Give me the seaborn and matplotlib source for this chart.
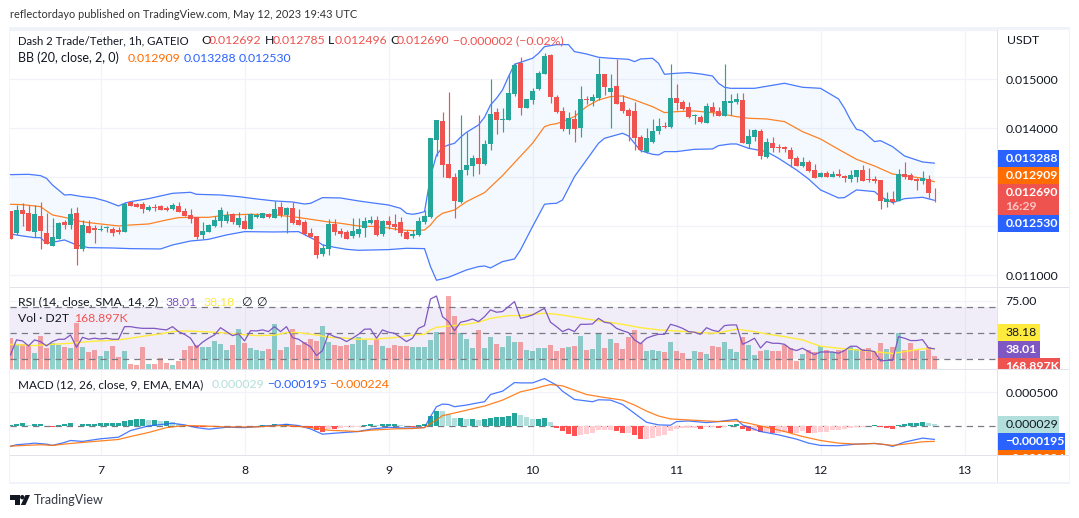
import numpy as np
import pandas as pd
import matplotlib
matplotlib.use("Agg")
import matplotlib.pyplot as plt
from matplotlib.patches import Rectangle, Polygon, Circle
from matplotlib.transforms import Bbox
import seaborn as sns

# ---- values in millionths of a USDT; hour 0 = first visible candle (May 6, 09:00)
opens = [12313,11870,12333,12272,11884,12211,11864,11605,11741,12095,12027,12272,11537,12007,11966,11918,11973,11945,11925,11884,12496,12455,12455,12340,12388,12415,12374,12353,12415,12313,12231,12183,11823,11891,12007,12109,12109,12245,12027,12109,11945,12190,12170,12251,12170,12394,12231,12374,12129,12088,11864,11802,11435,11537,12047,11904,11884,11802,11843,
 11966,12061,12129,11844,12109,12048,12088,11885,11803,11823,12088,12190,13762,14150,13272,13007,12496,13150,13231,13395,13272,13680,14333,14177,14170,14701,15334,14415,14578,14803,15109,15497,14640,14354,13986,14191,14007,14599,14558,14619,15109,14742,14864,14538,14374,14354,13823,13517,13721,13946,14048,14027,14619,14538,14436,14259,14231,14109,14436,14354,
 14252,14510,14538,14578,13680,13823,13946,13415,13701,13619,13612,13558,13395,13231,13313,13150,13007,13089,13007,13068,13034,12973,13007,13150,12966,12959,12946,12496,12558,12517,13068,13048,12966,12925,12966,12692]
highs = [12313,12435,12483,12435,12435,12496,12265,12163,12095,12129,12374,12388,12129,12129,12027,12027,12007,11993,11993,12503,12510,12469,12496,12435,12455,12428,12415,12469,12496,12367,12360,12197,12095,12047,12211,12401,12313,12265,12292,12231,12265,12265,12272,12265,12510,12496,12401,12490,12347,12129,11966,11802,11639,12149,12149,11966,11925,12170,12170,
 12197,12211,12211,12129,12211,12252,12184,11925,11925,12197,12334,13803,14170,14333,14742,13082,14272,13925,13456,14272,13762,15007,14415,14415,15109,15327,15449,14599,14816,15170,15531,15517,14680,14436,14333,14374,14864,14660,14701,15436,15109,15109,15415,14680,14408,14538,13864,14007,14191,14211,14129,15313,14905,14578,14538,14293,14272,14517,14538,14436,
 15313,14701,14721,14721,13986,13986,13986,13803,13823,13680,13640,13619,13435,13415,13354,13272,13109,13129,13129,13170,13048,13150,13150,13259,13197,13027,12946,12701,12721,13170,13320,13089,12986,13129,13048,12785]
lows = [11748,11823,12007,11904,11775,11544,11632,11598,11741,11945,11945,11211,11503,11870,11666,11911,11891,11802,11836,11884,12421,12388,12279,12319,12313,12333,12313,12333,12285,12211,12075,11734,11734,11877,11979,11993,12061,12047,11979,11938,11938,12163,12163,12163,12170,12183,11870,12047,12027,11823,11775,11353,11394,11415,11823,11775,11741,11762,11789,
 11789,12048,11803,11803,11939,11925,11803,11742,11762,11810,12048,12170,13435,13007,12986,12170,12470,13048,13027,13068,13252,13558,13884,13925,14170,14660,14272,14415,14497,14782,15109,14517,14313,13946,13884,13721,13823,14497,14456,14578,14680,14007,14497,14313,13742,13558,13517,13490,13701,13884,14007,14007,14374,14374,14204,14089,14109,14109,14252,14252,
 14252,14272,14497,13701,13599,13742,13374,13395,13517,13517,13517,13211,13231,13211,13109,12986,13007,13007,13007,13007,12905,12905,12905,12925,12905,12884,12354,12395,12456,12517,12966,12946,12742,12864,12571,12496]
closes = [11748,12333,12258,11904,12251,11911,11639,11782,12068,12027,12251,11537,12027,11870,11925,11945,11986,11864,11884,12449,12421,12401,12353,12394,12374,12340,12333,12435,12292,12217,12149,11775,11904,12027,12129,12333,12231,12081,12170,11945,12251,12231,12272,12190,12353,12231,12374,12068,12027,11843,11782,11415,11557,12047,11884,11843,11741,11904,11945,
 12109,12129,11823,12109,12027,11986,11864,11742,11844,12109,12211,13803,14170,13252,12986,12517,13150,13252,13395,13272,13680,14293,14170,14191,14721,15293,14415,14599,14762,15129,15476,14640,14333,13986,14211,13986,14599,14578,14640,15109,14844,14823,14497,14354,14252,13803,13558,13803,13946,14048,14027,14619,14517,14395,14231,14272,14129,14456,14333,14252,
 14558,14558,14599,13701,13844,13966,13435,13721,13599,13599,13571,13374,13231,13313,13129,12986,13089,13007,13068,13027,12980,13048,13150,12925,12952,12925,12517,12558,12496,13068,13007,12946,12925,12986,12680,12690]

bb_upper_h = [0,3,5,6,7,8,9,10,12,14,16,18,19,20,23,25,27,30,31,35,38,41,44,47,49,50,52,55,58,60,63,65,66,67,68,69,70,71,72,73,74,75,76,78,79,80,81,82,83,84,85,87,88,89,91,93,94,96,98,100,103,104,105,107,108,109,111,113,115,117,118,119,120,124,129,132,135,138,139,140,141,142,144,145,147,149,152,154]
bb_upper = [13054,13061,13034,12979,12843,12741,12639,12646,12605,12578,12510,12415,12469,12503,12564,12619,12673,12694,12653,12639,12605,12558,12517,12496,12455,12469,12585,12578,12517,12483,12435,12367,12265,12245,12265,12299,13014,13456,13612,13660,13694,13816,13918,14068,14225,14476,14612,14782,15055,15306,15347,15429,15531,15667,15708,15708,15565,15517,15449,15429,15408,15361,15415,15429,15327,15102,15123,15136,15109,15068,14919,14837,14816,14816,14919,14837,14816,14599,14408,14170,13980,13946,13728,13748,13626,13435,13313,13288]
bb_basis_h = [0,2,5,6,7,9,11,13,16,18,20,23,26,28,30,33,36,40,44,47,50,53,55,58,61,63,65,67,69,70,71,72,74,76,79,82,84,87,89,90,91,92,94,96,98,100,102,104,107,109,111,114,118,121,123,126,129,132,135,138,141,144,147,149,152,154]
bb_basis = [12449,12442,12401,12313,12231,12183,12115,12075,12034,12007,12027,12047,12129,12177,12183,12183,12231,12245,12231,12197,12143,12088,12061,12007,11993,11966,11925,11912,11925,12027,12177,12265,12333,12503,12687,13034,13299,13694,14034,14075,14095,14136,14238,14442,14578,14646,14660,14578,14442,14320,14340,14354,14306,14238,14204,14191,14136,13932,13782,13571,13367,13231,13068,13034,12980,12909]
bb_lower_h = [0,2,4,5,6,7,9,11,13,17,20,25,27,30,32,33,36,39,44,48,51,52,54,56,58,63,66,69,70,71,73,76,78,79,80,82,84,85,87,89,90,91,92,94,96,98,99,102,103,105,107,108,109,111,114,117,118,120,121,123,126,128,131,133,135,138,139,141,144,145,147,149,152,154]
bb_lower = [11843,11802,11768,11768,11653,11673,11721,11619,11564,11557,11544,11537,11619,11700,11721,11734,11823,11891,11884,11891,11707,11619,11571,11530,11510,11524,11551,11544,11177,10898,10959,11109,11177,11190,11150,11279,11333,11517,11993,12449,12463,12469,12537,13014,13354,13694,13796,13898,13844,13544,13469,13456,13524,13524,13571,13578,13646,13680,13680,13592,13524,13388,13150,12966,12742,12578,12585,12742,12708,12605,12483,12564,12592,12530]

volume_k = [407,320,320,312,208,429,268,333,312,290,277,598,286,225,247,169,238,303,160,238,65,52,286,69,69,139,78,52,104,247,299,312,286,286,364,329,247,312,520,338,273,247,234,260,585,247,286,520,312,351,390,364,559,351,312,299,312,320,420,
 377,312,390,299,273,312,299,299,286,286,286,377,481,481,948,688,468,390,273,507,273,416,325,286,429,351,351,247,234,273,273,312,234,273,286,299,429,247,260,455,273,390,338,260,416,507,338,234,247,234,221,351,234,208,117,234,221,195,299,286,
 351,260,221,416,312,182,234,247,234,234,312,273,104,195,247,221,299,247,221,247,247,286,260,260,273,221,338,260,286,468,247,338,247,234,286,169]

rsi = [33.3,44.9,44.1,40.3,44.9,43.6,40.3,43.6,45.4,45.4,48.7,39.2,46.9,45.4,46.2,45.6,46.2,45.4,45.4,55.1,55.1,54.3,53.8,53.8,53.8,53.1,52.6,55.1,51.3,49.2,46.2,39,43.1,46.2,48.7,54.3,51.3,48.2,49.5,44.1,52,51.8,52.6,51.3,55.1,51.3,55.1,46.7,45.4,42.3,39.7,32.8,36.7,49.7,47.4,46.2,43.6,46.2,49.2,
 53.1,53.3,46.2,52.6,50.8,50,46.9,43.6,46.2,53.8,55.9,76.4,78.7,62.8,59,52,58.5,59.5,61,59,62.8,68,66.2,66.7,70.5,74.4,61.5,62.6,64.1,66.7,69.2,58.5,55.1,51.3,53.3,51.3,56.9,56.9,57.2,61.5,58.5,57.7,53.8,52,50.5,44.9,42,46.2,47.9,49.2,49.2,56.9,55.6,53.8,51.3,50.8,49.2,54.3,52.3,51.3,
 55.9,56.4,56.4,41.5,43.6,46.2,38.7,43.6,42.3,42.3,41.5,38,36.7,38.5,35.9,33.6,35.6,35.6,35.6,34.6,36.7,40,40,36.9,36.7,35.9,28.7,29.2,29.2,47.4,46.2,44.4,44.4,45.1,38.7,38.01]
rsi_ma_h = [0,4,7,10,13,18,20,22,25,27,29,32,35,38,41,44,46,48,51,53,56,58,61,64,67,69,70,71,73,76,78,80,83,85,87,89,91,93,96,99,102,105,108,111,114,117,118,121,124,126,129,132,135,138,141,144,147,149,152,154]
rsi_ma = [41.5,40.5,41.5,42.3,43.6,44.9,46.2,47.7,49.5,51.3,51.8,51.3,50.5,49.2,48.2,48.5,50.5,50.5,48.7,46.9,46.2,45.4,45.6,46.7,48.7,49.2,52.6,54.6,55.6,56.9,58.5,61.5,63.6,63.6,64.6,65.4,64.6,63.3,61,59,56.9,54.3,52.6,51.8,50.8,50,50.5,53.1,51.3,49.5,47.4,44.9,40,38.5,37.2,35.9,34.4,35.9,38,38.18]

macd_hist = [15,39,49,15,29,29,5,-5,20,34,49,10,29,29,39,49,49,49,49,78,93,108,108,98,98,78,78,59,29,15,5,-10,-15,-10,0,5,5,0,5,10,5,10,20,15,29,25,39,-5,-10,-15,-29,-59,-78,-34,-39,-29,-15,-15,-10,
 15,29,15,34,34,34,15,5,-5,25,34,147,225,221,186,118,118,103,103,88,103,127,142,142,157,201,162,132,103,103,118,69,
 -25,-74,-108,-142,-127,-118,-98,-59,-59,-49,-69,-98,-98,-137,-186,-186,-172,-147,-127,-69,-39,-25,-20,-20,-39,-15,-15,-25,
 -10,15,39,-39,-64,-64,-88,-88,-98,-98,-83,-98,-98,-74,-98,-98,-78,-78,-59,-49,-34,-20,-10,-5,5,20,-15,-20,-39,20,29,44,44,64,49,29]
macd_h = [0,1,3,4,6,7,9,10,12,15,18,20,23,27,29,31,33,36,39,42,45,46,48,50,52,54,58,60,63,66,69,70,71,72,73,74,76,78,79,80,82,84,85,87,89,91,92,94,97,98,100,102,104,106,108,110,111,113,116,118,121,122,125,128,131,133,135,138,141,144,146,147,149,152,154]
macd_line = [-299,-274,-260,-250,-265,-284,-240,-211,-225,-186,-162,-64,5,44,20,-20,-44,-15,-20,0,20,29,10,-39,-118,-103,-78,-44,-15,-29,-20,142,289,328,323,289,314,348,363,470,519,647,642,642,706,608,519,397,363,392,387,323,191,59,20,15,69,78,54,69,103,20,-78,-127,-191,-250,-284,-289,-265,-255,-274,-299,-235,-176,-195]
signal_h = [0,5,7,10,14,18,20,23,26,29,32,36,41,45,47,50,53,58,60,64,67,69,71,72,74,78,79,82,85,87,89,90,92,94,96,99,102,104,106,108,110,113,118,121,123,126,129,132,135,138,141,144,147,149,152,154]
signal_line = [-294,-274,-284,-255,-225,-196,-152,-93,-20,10,5,-10,-10,10,5,-20,-59,-78,-59,-39,-34,-20,93,157,196,279,299,387,510,549,598,617,598,534,470,426,387,314,225,152,108,93,69,78,44,-15,-78,-152,-211,-250,-265,-255,-284,-265,-230,-224]

day_hours = [15,39,63,87,111,135,159]
day_labels = ["7","8","9","10","11","12","13"]
price_ticks = [16000,15000,14000,13000,12000,11000]
price_tick_labels = ["","0.015000","0.014000","","","0.011000"]

# ---- styling
GREEN, RED = "#26a69a", "#ef5350"
BLUE, ORANGE = "#2962ff", "#ff6d00"
PURPLE, YELLOW = "#7e57c2", "#ffeb3b"
GRID, SEP, INK = "#f0f3fa", "#e0e3eb", "#131722"
W, H = 1079, 518

sns.set_theme(style="white")
plt.rcParams["font.family"] = ["Lato", "DejaVu Sans"]
plt.rcParams["axes.unicode_minus"] = True
FS = 8.8

n = len(closes)
df = pd.DataFrame(dict(hour=np.arange(n), open=opens, high=highs, low=lows, close=closes,
                       vol=volume_k, rsi=rsi, hist=macd_hist))
df["dir"] = np.where(df.close >= df.open, "up", "down")
up = df.close >= df.open

fig = plt.figure(figsize=(W / 100, H / 100), dpi=100, facecolor="white")


def px_axes(x0, y0, x1, y1, z=1, transparent=False):
    a = fig.add_axes([x0 / W, 1 - y1 / H, (x1 - x0) / W, (y1 - y0) / H], zorder=z)
    a.set_xlim((x0 - 10.5) / 6, (x1 - 10.5) / 6)
    a.set_xticks(day_hours)
    a.set_xticklabels([])
    a.tick_params(length=0, labelsize=FS, labelcolor=INK, pad=6)
    a.yaxis.tick_right()
    for s in a.spines.values():
        s.set_visible(False)
    if transparent:
        a.patch.set_alpha(0)
    else:
        a.grid(True, color=GRID, lw=0.9)
    a.set_axisbelow(True)
    return a


# ---- price panel
ax = px_axes(10, 30, 997, 287)
ax.set_ylim(10761, 16006)
ax.set_yticks(price_ticks)
ax.set_yticklabels(price_tick_labels)
ax.fill(bb_upper_h + bb_lower_h[::-1], bb_upper + bb_lower[::-1], color="#2196f3", alpha=0.05, lw=0)
for hrs, vals, col in ((bb_upper_h, bb_upper, BLUE), (bb_lower_h, bb_lower, BLUE), (bb_basis_h, bb_basis, ORANGE)):
    sns.lineplot(x=hrs, y=vals, color=col, lw=0.9, estimator=None, sort=False, ax=ax, zorder=3, alpha=0.85)
candle_colors = np.where(up, GREEN, RED)
ax.vlines(df.hour, df.low, df.high, colors=candle_colors, lw=0.85, zorder=4)
ax.bar(df.hour, (df.close - df.open).abs().clip(lower=6), bottom=df[["open", "close"]].min(axis=1),
       width=0.78, color=candle_colors, lw=0, zorder=5)
ax.set_xlabel(""); ax.set_ylabel("")

# ---- RSI / volume panel
ax_band = px_axes(10, 288, 997, 369)
ax_band.set_ylim(22.5, 84.85)
ax_band.set_yticks([75])
ax_band.set_yticklabels(["75.00"])
ax_band.axhspan(30, 70, color=PURPLE, alpha=0.1, lw=0)

ax_vol = px_axes(10, 288, 997, 369, z=2, transparent=True)
ax_vol.set_ylim(0, 1052)
sns.barplot(data=df, x="hour", y="vol", hue="dir", palette={"up": GREEN, "down": RED}, native_scale=True,
            dodge=False, width=0.8, alpha=0.5, saturation=1, legend=False, linewidth=0, ax=ax_vol)
ax_vol.set_xlim((10 - 10.5) / 6, (997 - 10.5) / 6)
ax_vol.set_xticks([]); ax_vol.set_yticks([])
ax_vol.set_xlabel(""); ax_vol.set_ylabel("")

ax_rsi = px_axes(10, 288, 997, 369, z=3, transparent=True)
ax_rsi.set_ylim(22.5, 84.85)
ax_rsi.set_xticks([]); ax_rsi.set_yticks([])
for lev in (30, 50, 70):
    ax_rsi.axhline(lev, color="#787b86", lw=0.9, dashes=(5, 4))
sns.lineplot(x=rsi_ma_h, y=rsi_ma, color=YELLOW, lw=1.0, estimator=None, sort=False, ax=ax_rsi)
sns.lineplot(data=df, x="hour", y="rsi", color=PURPLE, lw=0.9, estimator=None, sort=False, ax=ax_rsi)
ax_rsi.set_xlabel(""); ax_rsi.set_ylabel("")

# ---- MACD panel
ax_m = px_axes(10, 370, 997, 455)
ax_m.set_ylim(-426, 833)
ax_m.set_yticks([500])
ax_m.set_yticklabels(["0.000500"])
ax_m.set_xticklabels(day_labels)
ax_m.axhline(0, color="#787b86", lw=0.9, dashes=(5, 4), zorder=1)
h = df["hist"].to_numpy()
rising = np.r_[True, h[1:] >= h[:-1]]
hist_colors = np.where(h >= 0, np.where(rising, GREEN, "#b2dfdb"), np.where(rising, "#ffcdd2", "#ff5252"))
ax_m.bar(df.hour, h, width=0.92, color=hist_colors, lw=0, zorder=2)
sns.lineplot(x=macd_h, y=macd_line, color=BLUE, lw=0.9, estimator=None, sort=False, ax=ax_m, zorder=3, alpha=0.85)
sns.lineplot(x=signal_h, y=signal_line, color=ORANGE, lw=0.9, estimator=None, sort=False, ax=ax_m, zorder=4, alpha=0.85)
ax_m.set_xlabel(""); ax_m.set_ylabel("")
ax_m.tick_params(axis="x", pad=7.5)

# ---- overlay drawn in pixel units: frame, legends, price tags
ov = fig.add_axes([0, 0, 1, 1], zorder=10)
ov.set_xlim(0, W); ov.set_ylim(H, 0); ov.axis("off"); ov.patch.set_alpha(0)


def rect(x0, y0, x1, y1, c, **kw):
    ov.add_patch(Rectangle((x0, y0), x1 - x0, y1 - y0, facecolor=c, edgecolor="none", **kw))


def txt(x, y, s, c=INK, fs=FS, **kw):
    kw.setdefault("va", "center")
    return ov.text(x, y, s, color=c, fontsize=fs, **kw)


# frame
rect(9, 26.5, 1070, 29.5, GRID)
rect(9, 482, 1070, 484, GRID)
rect(9, 26.5, 10, 484, GRID)
rect(1068.5, 26.5, 1070, 484, GRID)
rect(10, 287, 1068.5, 288, SEP)
rect(10, 369, 1068.5, 370, SEP)
rect(10, 455, 1068.5, 456, SEP)
rect(997, 30, 998, 482, SEP)

txt(10, 14, "reflectordayo published on TradingView.com, May 12, 2023 19:43 UTC", c="#333333", fs=7.95)

# legends
L_RED = "#ef5350"
y = 41
txt(18, y, "Dash 2 Trade/Tether, 1h, GATEIO", fs=8.2)
for x, s, c in ((201, "O", INK), (209, "0.012692", L_RED), (265, "H", INK), (273, "0.012785", L_RED),
                (328, "L", INK), (334.5, "0.012496", L_RED), (390, "C", INK), (397, "0.012690", L_RED),
                (453, "−0.000002 (−0.02%)", L_RED)):
    txt(x, y, s, c)
y = 58
txt(18, y, "BB (20, close, 2, 0)", fs=9.0)
txt(128, y, "0.012909", ORANGE); txt(184, y, "0.013288", BLUE); txt(239, y, "0.012530", BLUE)
y = 302
txt(18, y, "RSI (14, close, SMA, 14, 2)")
txt(166, y, "38.01", PURPLE); txt(203, y, "38.18", YELLOW); txt(241, y, "∅"); txt(256, y, "∅")
y = 319
txt(18, y, "Vol · D2T"); txt(74, y, "168.897K", L_RED)
y = 385
txt(18, y, "MACD (12, 26, close, 9, EMA, EMA)", fs=8.45)
txt(212, y, "0.000029", "#b2dfdb"); txt(267, y, "−0.000195", BLUE); txt(329, y, "−0.000224", ORANGE)

txt(1007, 41, "USDT")

# price tags
for y0, y1, x1, c, s, tc in ((150, 167, 1059, BLUE, "0.013288", "white"),
                             (167, 184, 1059, ORANGE, "0.012909", "white"),
                             (215, 232, 1059, BLUE, "0.012530", "white"),
                             (324, 341, 1040, YELLOW, "38.18", INK),
                             (341, 358, 1040, PURPLE, "38.01", "white"),
                             (416, 433, 1059, "#b2dfdb", "0.000029", INK),
                             (433, 450, 1065, BLUE, "−0.000195", "white")):
    rect(997.5, y0, x1, y1, c)
    txt(1005.5, (y0 + y1) / 2, s, tc, fontweight="bold" if tc == "white" else "normal")
rect(997.5, 184, 1059, 215, RED)
txt(1005.5, 193, "0.012690", "white", fontweight="bold")
txt(1005.5, 206, "16:29", "#f9c6c5", fontweight="bold")
# tags cut off by the panel edge
rect(997.5, 358, 1060, 369, RED)
t = txt(1005.5, 366, "168.897K", "white", fontweight="bold")
t.set_clip_on(True); t.set_clip_box(Bbox([[997, H - 369], [1070, H - 358]]))
rect(997.5, 450, 1065, 455, ORANGE)
t = txt(1005.5, 458, "−0.000224", "white", fontweight="bold")
t.set_clip_on(True); t.set_clip_box(Bbox([[997, H - 455], [1070, H - 450]]))

# TradingView mark
LOGO = "#131722"
ov.add_patch(Polygon([(10, 495), (20, 495), (20, 505), (15, 505), (15, 500), (10, 500)], closed=True, fc=LOGO, ec="none"))
ov.add_patch(Circle((22.3, 497.2), 2.2, fc=LOGO, ec="none"))
ov.add_patch(Polygon([(25.5, 495), (30, 495), (25.5, 505), (20.8, 505)], closed=True, fc=LOGO, ec="none"))
txt(34, 500, "TradingView", c="#333842", fs=9.0)

fig.savefig("out.png", dpi=100, facecolor="white")
